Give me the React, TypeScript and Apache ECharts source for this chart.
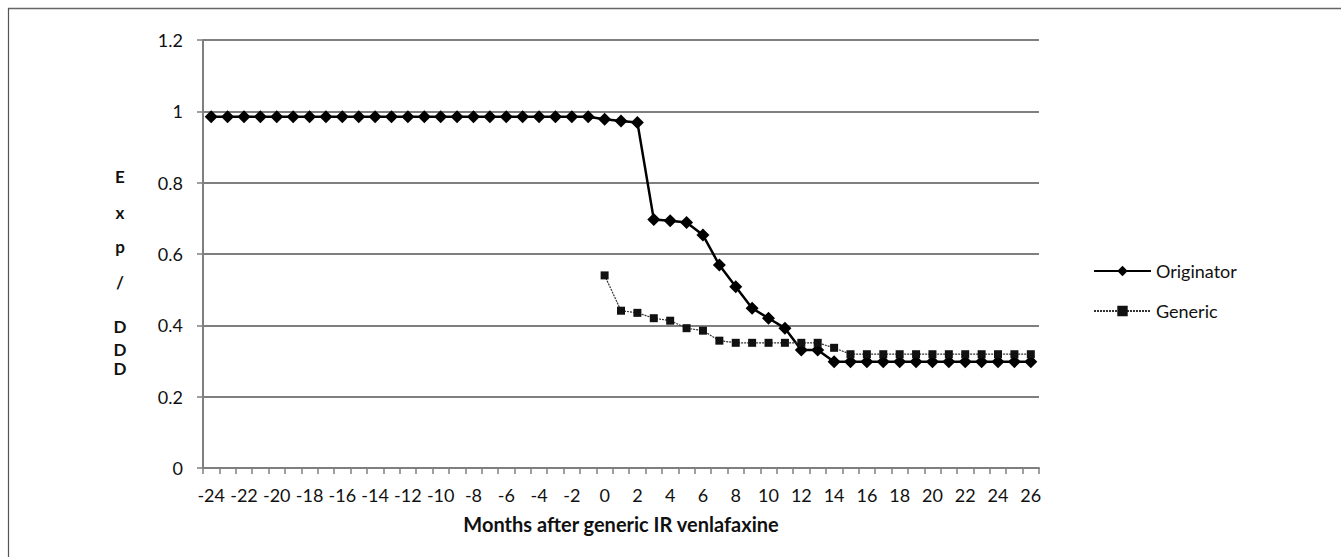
import React, { useEffect, useRef } from "react";
import * as echarts from "echarts";

const months: string[] = [];
for (let m = -24; m <= 26; m++) months.push(String(m));

const originator: (number | null)[] = [
  0.985, 0.985, 0.985, 0.985, 0.985, 0.985, 0.985, 0.985, 0.985, 0.985, 0.985, 0.985,
  0.985, 0.985, 0.985, 0.985, 0.985, 0.985, 0.985, 0.985, 0.985, 0.985, 0.985, 0.985,
  0.978, 0.973, 0.969, 0.697, 0.693, 0.688, 0.653, 0.569, 0.508, 0.448, 0.42, 0.392,
  0.331, 0.331, 0.298, 0.298, 0.298, 0.298, 0.298, 0.298, 0.298, 0.298, 0.298, 0.298,
  0.298, 0.298, 0.298,
];

const generic: (number | null)[] = [
  null, null, null, null, null, null, null, null, null, null, null, null,
  null, null, null, null, null, null, null, null, null, null, null, null,
  0.54, 0.441, 0.435, 0.42, 0.413, 0.392, 0.385, 0.357, 0.351, 0.351, 0.351, 0.351,
  0.351, 0.351, 0.337, 0.319, 0.319, 0.319, 0.319, 0.319, 0.319, 0.319, 0.319, 0.319,
  0.319, 0.319, 0.319,
];

const yTitleChars = ["E", "x", "p", "/", "D", "D", "D"];
const yTitlePos = [176, 212, 246, 282, 326, 349, 368];

const FONT = "Lato";

export default function App() {
  const ref = useRef<HTMLDivElement>(null);
  useEffect(() => {
    if (!ref.current) return;
    const chart = echarts.init(ref.current, null, { renderer: "svg" });
    chart.setOption({
      animation: false,
      backgroundColor: "#fff",
      textStyle: { fontFamily: FONT },
      grid: { left: 203, right: 302, top: 40, bottom: 89, containLabel: false },
      legend: {
        orient: "vertical",
        left: 1088,
        top: 257,
        itemWidth: 57,
        itemHeight: 13,
        itemGap: 22,
        textStyle: { fontFamily: FONT, fontSize: 18, color: "#111" },
        data: ["Originator", "Generic"],
      },
      xAxis: {
        type: "category",
        data: months,
        boundaryGap: true,
        name: "Months after generic IR venlafaxine",
        nameLocation: "middle",
        nameGap: 46,
        nameTextStyle: { fontFamily: FONT, fontSize: 20, fontWeight: "bold", color: "#111" },
        axisLine: { lineStyle: { color: "#7f7f7f", width: 2 } },
        axisTick: { show: true, length: 6, interval: 0, lineStyle: { color: "#7f7f7f", width: 1.5 } },
        axisLabel: { interval: 1, margin: 18, fontFamily: FONT, fontSize: 18, color: "#111" },
        splitLine: { show: false },
      },
      yAxis: {
        type: "value",
        min: 0,
        max: 1.2,
        interval: 0.2,
        axisLine: { show: true, lineStyle: { color: "#7f7f7f", width: 2 } },
        axisTick: { show: true, length: 6, lineStyle: { color: "#7f7f7f", width: 1.5 } },
        axisLabel: {
          margin: 20,
          fontFamily: FONT,
          fontSize: 18,
          color: "#111",
          formatter: (v: number) => String(Math.round(v * 10) / 10),
        },
        splitLine: { show: true, lineStyle: { color: "#7f7f7f", width: 2 } },
      },
      graphic: [
        { type: "line", shape: { x1: 8, y1: 8.5, x2: 1341, y2: 8.5 }, style: { stroke: "#666", lineWidth: 1.5 } },
        { type: "line", shape: { x1: 8.5, y1: 8, x2: 8.5, y2: 557 }, style: { stroke: "#555", lineWidth: 1.2 } },
        ...yTitleChars.map((c, i) => ({
          type: "text",
          x: 120,
          y: yTitlePos[i],
          style: {
            text: c,
            fontFamily: FONT,
            fontSize: 17,
            fontWeight: "bold",
            fill: "#111",
            align: "center",
            verticalAlign: "middle",
          },
        })),
      ],
      series: [
        {
          name: "Originator",
          type: "line",
          data: originator,
          symbol: "diamond",
          symbolSize: 13,
          showAllSymbol: true,
          itemStyle: { color: "#000" },
          lineStyle: { color: "#000", width: 2.5 },
          connectNulls: false,
        },
        {
          name: "Generic",
          type: "line",
          data: generic,
          symbol: "rect",
          symbolSize: 8,
          showAllSymbol: true,
          itemStyle: { color: "#111" },
          lineStyle: { color: "#333", width: 1.2, type: [2, 1] },
          connectNulls: false,
        },
      ],
    });
    return () => chart.dispose();
  }, []);
  return <div ref={ref} style={{ width: 1341, height: 557, position: "absolute", left: 0, top: 0 }} />;
}
